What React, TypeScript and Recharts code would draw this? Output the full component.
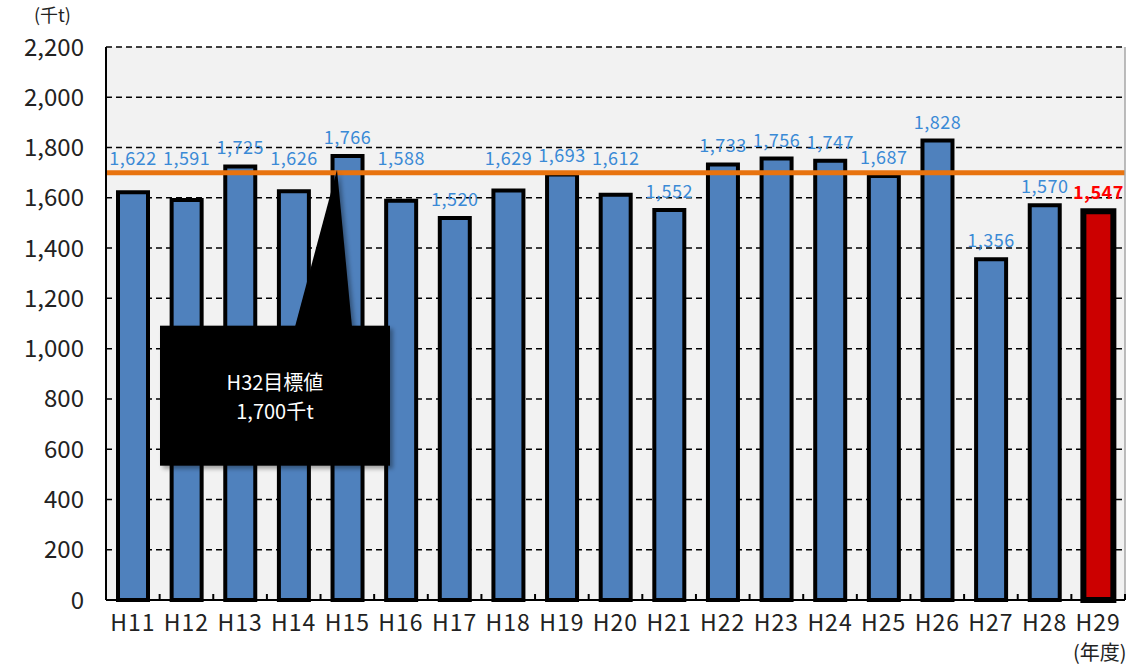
import React from 'react';
import { BarChart, Bar, XAxis, YAxis, CartesianGrid, ReferenceLine, LabelList, Cell } from 'recharts';

const years = ['H11', 'H12', 'H13', 'H14', 'H15', 'H16', 'H17', 'H18', 'H19', 'H20', 'H21', 'H22', 'H23', 'H24', 'H25', 'H26', 'H27', 'H28', 'H29'];
const amounts = [1622, 1591, 1725, 1626, 1766, 1588, 1520, 1629, 1693, 1612, 1552, 1733, 1756, 1747, 1687, 1828, 1356, 1570, 1547];
const yTicks = [0, 200, 400, 600, 800, 1000, 1200, 1400, 1600, 1800, 2000, 2200];
const target = 1700;
const targetLines = ['H32目標値', '1,700千t'];

const data = years.map((year, i) => ({ year, amount: amounts[i] }));

const W = 1140;
const H = 667;
const PLOT_LEFT = 106;
const PLOT_RIGHT = 1125;
const PLOT_TOP = 47;
const PLOT_BOTTOM = 600;
const Y_MAX = 2200;
const STEP = (PLOT_RIGHT - PLOT_LEFT) / years.length;
const TARGET_Y = PLOT_TOP + (PLOT_BOTTOM - PLOT_TOP) * (1 - target / Y_MAX);

const FONT = '"Noto Sans CJK JP", "Noto Sans", sans-serif';

const renderValueLabel = (props: any) => {
  const { x, y, width, value, index } = props;
  const last = index === amounts.length - 1;
  let cy = y - 20;
  // keep labels clear of the target line
  if (Math.abs(cy - TARGET_Y) < 10) cy = TARGET_Y - 16;
  return (
    <text
      x={x + width / 2}
      y={cy}
      textAnchor="middle"
      dominantBaseline="central"
      fontSize={18}
      letterSpacing={0.5}
      fontWeight={last ? 700 : 400}
      fill={last ? '#ff0000' : '#3a8ad6'}
      fontFamily={FONT}
    >
      {Number(value).toLocaleString()}
    </text>
  );
};

const XTick = (props: any) => {
  const { x, y, payload } = props;
  return (
    <g>
      <text x={x} y={y + 31} textAnchor="middle" fontSize={23} letterSpacing={1} fill="#222" fontFamily={FONT}>
        {payload.value}
      </text>
      <line x1={x + STEP / 2} y1={y} x2={x + STEP / 2} y2={y - 6} stroke="#000" strokeWidth={2} />
    </g>
  );
};

const Callout = (props: any) => {
  const vb = props.viewBox;
  if (!vb) return null;
  const x0 = vb.x;
  const y0 = vb.y;
  const bx = x0 + 54;
  const by = y0 + 153;
  const bw = 230;
  const bh = 140;
  return (
    <g>
      <defs>
        <filter id="calloutShadow" x="-10%" y="-10%" width="130%" height="130%">
          <feDropShadow dx="3" dy="3" stdDeviation="2" floodColor="#000" floodOpacity="0.35" />
        </filter>
      </defs>
      <g filter="url(#calloutShadow)">
        <rect x={bx} y={by} width={bw} height={bh} fill="#000" />
        <polygon points={`${x0 + 189},${by + 1} ${x0 + 231},${y0 - 3} ${x0 + 246},${by + 1}`} fill="#000" />
      </g>
      <text x={bx + bw / 2} y={by + 64} textAnchor="middle" fontSize={20} fill="#fff" fontFamily={FONT}>
        {targetLines[0]}
      </text>
      <text x={bx + bw / 2} y={by + 93} textAnchor="middle" fontSize={20} fill="#fff" fontFamily={FONT}>
        {targetLines[1]}
      </text>
    </g>
  );
};

const App: React.FC = () => {
  return (
    <div style={{ position: 'absolute', left: 0, top: 0, width: W, height: H, background: '#fff', fontFamily: FONT }}>
      <BarChart
        width={W}
        height={H}
        data={data}
        margin={{ top: PLOT_TOP, right: 0, left: 0, bottom: 0 }}
        barSize={30}
      >
        <CartesianGrid fill="#f2f2f2" vertical={false} stroke="#000" strokeWidth={1.5} strokeDasharray="6 4" />
        <XAxis
          dataKey="year"
          tick={<XTick />}
          tickLine={false}
          tickSize={0}
          tickMargin={0}
          axisLine={{ stroke: '#000', strokeWidth: 2 }}
          interval={0}
          height={H - PLOT_BOTTOM}
        />
        <YAxis
          domain={[0, Y_MAX]}
          ticks={yTicks}
          width={PLOT_LEFT}
          tickLine={false}
          tickSize={0}
          tickMargin={22}
          axisLine={{ stroke: '#000', strokeWidth: 2 }}
          tick={{ fontSize: 24, fill: '#222', fontFamily: FONT }}
          tickFormatter={(v: number) => v.toLocaleString()}
          interval={0}
        />
        <YAxis
          yAxisId="right"
          orientation="right"
          domain={[0, Y_MAX]}
          width={W - PLOT_RIGHT}
          tick={false}
          tickLine={false}
          axisLine={{ stroke: '#a6a6a6', strokeWidth: 1.5 }}
        />
        <Bar dataKey="amount" fill="#4f81bd" stroke="#000" strokeWidth={4} isAnimationActive={false}>
          {data.map((d, i) => (
            <Cell
              key={d.year}
              fill={i === data.length - 1 ? '#cc0000' : '#4f81bd'}
              strokeWidth={i === data.length - 1 ? 6 : 4}
            />
          ))}
          <LabelList dataKey="amount" content={renderValueLabel} />
        </Bar>
        <ReferenceLine y={target} stroke="#e8730f" strokeWidth={5} label={<Callout />} />
      </BarChart>
      <div style={{ position: 'absolute', left: 34, top: 4, fontSize: 18, lineHeight: '20px', color: '#222' }}>(千t)</div>
      <div style={{ position: 'absolute', left: 1073, top: 641, fontSize: 20, lineHeight: '22px', color: '#222' }}>(年度)</div>
    </div>
  );
};

export default App;
